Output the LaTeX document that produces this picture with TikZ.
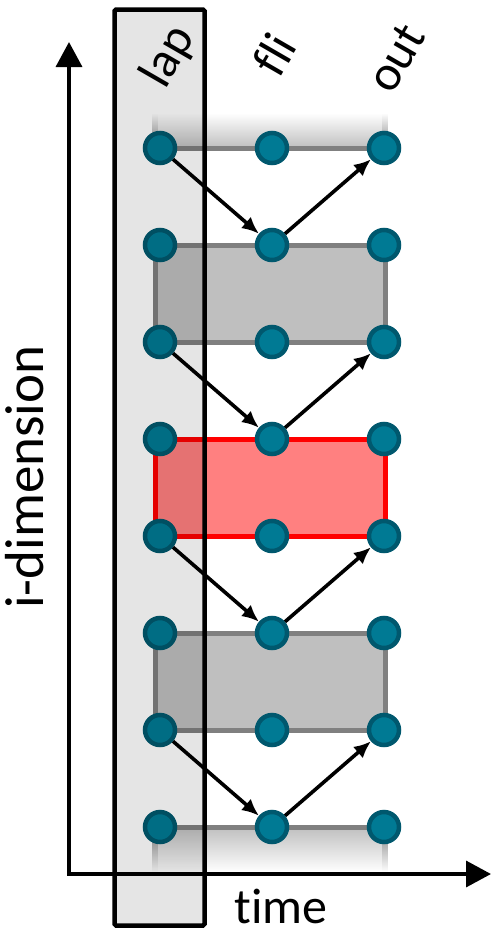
\documentclass[tikz,border=0pt]{standalone}
\usepackage{fontspec}
\setmainfont{Carlito}[Ligatures=NoCommon]
\usetikzlibrary{arrows.meta}
\definecolor{dotfill}{RGB}{0,122,148}
\definecolor{dotline}{RGB}{0,88,110}
\definecolor{boxfill}{RGB}{191,191,191}
\definecolor{boxline}{RGB}{128,128,128}
\definecolor{redfill}{RGB}{255,128,128}
\definecolor{redline}{RGB}{255,0,0}
\begin{document}
\begin{tikzpicture}[x=1pt,y=-1pt,
  dot/.style={circle,fill=dotfill,draw=dotline,line width=4.5pt,minimum size=30pt,inner sep=0pt},
  flow/.style={-{Latex[length=17pt,width=15pt]},line width=3.6pt},
  box/.style={draw=boxline,fill=boxfill,line width=5pt},
  hotbox/.style={draw=redline,fill=redfill,line width=5pt},
  axis/.style={line width=3.5pt,{Triangle[length=25pt,width=26pt]}-{Triangle[length=25pt,width=26pt]}},
  lbl/.style={font=\fontsize{50}{56}\selectfont,rotate=60,inner sep=0pt},
  axlbl/.style={font=\fontsize{50}{56}\selectfont,inner sep=0pt}]
\useasboundingbox (0,0) rectangle (493,930);
% faded strips
\shade[top color=white,bottom color=boxfill] (155,113) rectangle (385,148);
\shade[top color=white,bottom color=boxline] (152.5,113) rectangle (157.5,148);
\shade[top color=white,bottom color=boxline] (382.5,113) rectangle (387.5,148);
\draw[boxline,line width=5pt] (152.5,148) -- (387.5,148);
\shade[top color=boxfill,bottom color=white] (155,827) rectangle (385,872);
\shade[top color=boxline,bottom color=white] (152.5,827) rectangle (157.5,872);
\shade[top color=boxline,bottom color=white] (382.5,827) rectangle (387.5,872);
\draw[boxline,line width=5pt] (152.5,827) -- (387.5,827);
% boxes
\draw[box] (155,245) rectangle (385,342);
\draw[hotbox] (155,439) rectangle (385,536);
\draw[box] (155,633) rectangle (385,730);
% dots
\foreach \i/\y in {1/148,2/245,3/342,4/439,5/536,6/633,7/730,8/827}{
  \node[dot] (L\i) at (160,\y) {};
  \node[dot] (F\i) at (272,\y) {};
  \node[dot] (O\i) at (384,\y) {};
}
% arrows
\draw[flow] (L1) -- (F2);
\draw[flow] (F2) -- (O1);
\draw[flow] (L3) -- (F4);
\draw[flow] (F4) -- (O3);
\draw[flow] (L5) -- (F6);
\draw[flow] (F6) -- (O5);
\draw[flow] (L7) -- (F8);
\draw[flow] (F8) -- (O7);
% axes
\coordinate (ytip) at (69,42);
\coordinate (origin) at (69,874);
\coordinate (xtip) at (491,874);
\draw[axis] (ytip) -- (origin) -- (xtip);
% overlay column
\draw[line width=4.5pt,fill=black,fill opacity=0.1,rounded corners=1.5pt] (114.5,9.5) rectangle (204.5,925.5);
% labels
\node[lbl] (lap) at (169,57) {lap};
\node[lbl] (fli) at (274,54) {fli};
\node[lbl] (out) at (396,58) {out};
\node[axlbl,rotate=90,anchor=base,font=\fontsize{55}{60}\selectfont] (idim) at (43,477) {i-dimension};
\node[axlbl,anchor=base] (time) at (281,923) {time};
\end{tikzpicture}
\end{document}
